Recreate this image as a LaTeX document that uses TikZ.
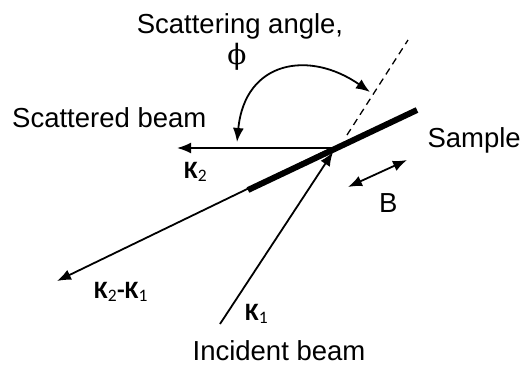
\documentclass[tikz,border=0pt]{standalone}
\usepackage{fontspec}
\setmainfont{Liberation Sans}
\newfontfamily\vecfont{Carlito}
\newfontfamily\phifont{DejaVu Serif}
\usetikzlibrary{arrows.meta}

\begin{document}
\begin{tikzpicture}[x=1pt,y=-1pt,>={Latex[length=14pt,width=11pt]},
 lbl/.style={inner sep=0pt,font=\fontsize{27.5}{33}\selectfont},
 vec/.style={inner sep=0pt,font=\fontsize{25}{29}\selectfont\vecfont\bfseries},
 beam/.style={line width=1.8pt},
 arrow/.style={beam,->},
 twoway/.style={beam,<->}]
\useasboundingbox (0,0) rectangle (523,365);
% geometry
\coordinate (hit) at (332,148);
\coordinate (smpA) at (248,190);\coordinate (smpB) at (417,110);
\coordinate (dashA) at (347,135);\coordinate (dashB) at (408,40);
\coordinate (scatEnd) at (177,148);
\coordinate (incStart) at (220,324);\coordinate (incTip) at (333,152);
\coordinate (diffEnd) at (57,281);
\coordinate (arcA) at (237,142);\coordinate (arcB) at (370,92);
\coordinate (bA) at (348,187);\coordinate (bB) at (407,160);
% beams
\draw[arrow] (hit) -- (scatEnd);
\draw[arrow] (hit) -- (diffEnd);
\draw[arrow] (incStart) -- (incTip);
\draw[line width=1.3pt,dash pattern=on 7pt off 5pt] (dashA) -- (dashB);
\draw[line width=6pt] (smpA) -- (smpB);
\draw[twoway] (arcA) .. controls (245,60) and (310,50) .. (arcB);
\draw[twoway] (bA) -- (bB);
% labels
\node[lbl,anchor=base] (angleLbl) at (240,33) {Scattering angle,};
\node[inner sep=0pt,font=\fontsize{28}{30}\phifont] (phiLbl) at (237,57) {ϕ};
\node[lbl,anchor=base west] (scatLbl) at (12,127) {Scattered beam};
\node[lbl,anchor=base east] (sampleLbl) at (521,147) {Sample};
\node[lbl,anchor=base west] (bLbl) at (379,212) {B};
\node[lbl,anchor=base] (incLbl) at (279,360) {Incident beam};
\node[vec,anchor=base west] (k2Lbl) at (184,178) {K\textsubscript{\mdseries 2}};
\node[vec,anchor=base west] (diffLbl) at (94,298) {K\textsubscript{\mdseries 2}-K\textsubscript{\mdseries 1}};
\node[vec,anchor=base west] (k1Lbl) at (245,320) {K\textsubscript{\mdseries 1}};
\end{tikzpicture}
\end{document}
